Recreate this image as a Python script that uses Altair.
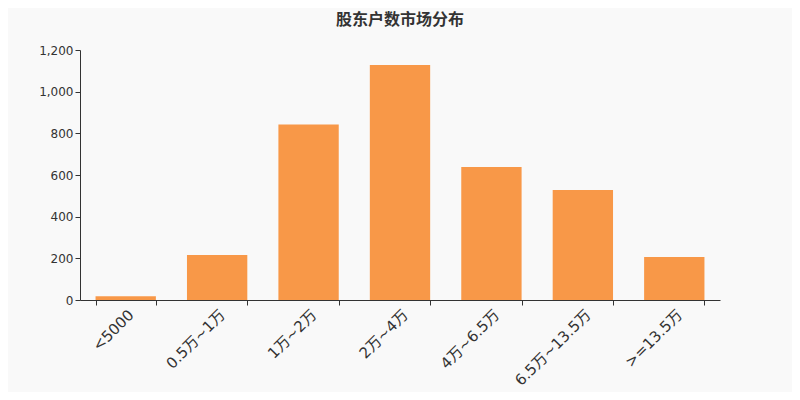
import altair as alt
import pandas as pd

categories = ["<5000", "0.5万~1万", "1万~2万", "2万~4万", "4万~6.5万", "6.5万~13.5万", ">=13.5万"]
values = [18, 216, 843, 1128, 638, 528, 206]

df = pd.DataFrame({"cat": categories, "val": values})

FONT = "DejaVu Sans, Noto Sans CJK SC, sans-serif"

chart = alt.Chart(df).mark_bar(color="#F89848").encode(
    x=alt.X("cat:N", sort=categories, title=None,
            scale=alt.Scale(paddingInner=0.34, paddingOuter=0.17),
            axis=alt.Axis(labelAngle=-45, labelFontSize=15, labelColor="#333333",
                          tickBand="extent", domainColor="#333333", tickColor="#333333",
                          tickSize=5, labelPadding=2, labelFont=FONT)),
    y=alt.Y("val:Q", title=None,
            scale=alt.Scale(domain=[0, 1200]),
            axis=alt.Axis(values=[0, 200, 400, 600, 800, 1000, 1200], format=",.0f",
                          grid=False, labelFontSize=12, labelColor="#333333",
                          domainColor="#333333", tickColor="#333333", tickSize=5,
                          labelFont=FONT)),
).properties(
    width=640, height=250,
    title=alt.TitleParams("股东户数市场分布", fontSize=16, fontWeight="bold",
                          color="#333333", anchor="middle", font=FONT, offset=16),
    background="#F9F9F9",
    autosize=alt.AutoSizeParams(type="none"),
    padding={"left": 72, "top": 42, "right": 72, "bottom": 92},
).configure_view(stroke=None)

chart.save("out.html", embed_options={"renderer": "svg", "actions": False})
